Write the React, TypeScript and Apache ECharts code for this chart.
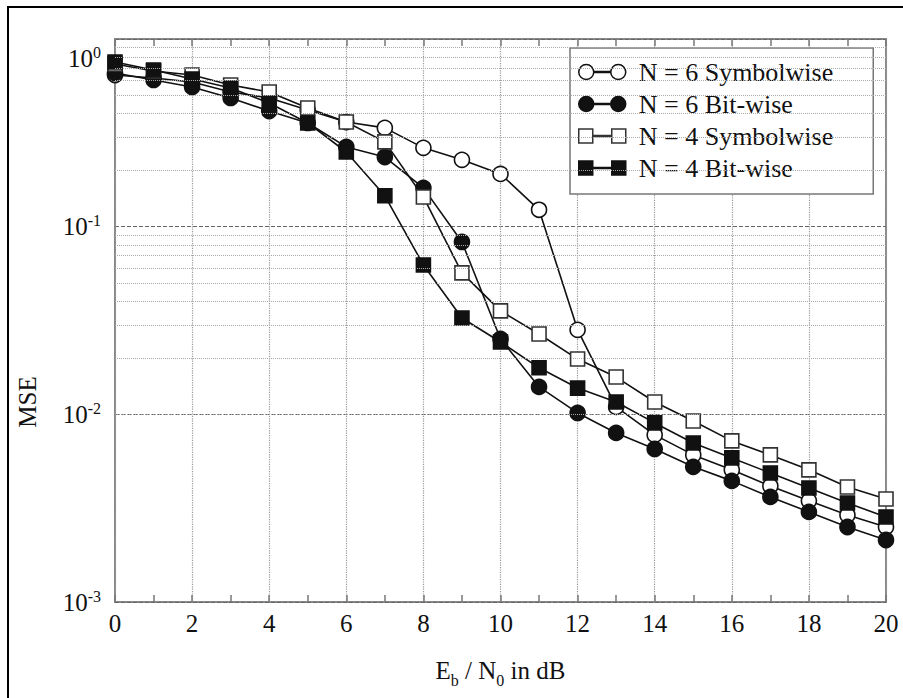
import React, { useEffect, useRef } from "react";
import * as echarts from "echarts";

const ebn0 = [0, 1, 2, 3, 4, 5, 6, 7, 8, 9, 10, 11, 12, 13, 14, 15, 16, 17, 18, 19, 20];

const n6Symbolwise = [0.643, 0.62, 0.59, 0.522, 0.485, 0.418, 0.361, 0.336, 0.263, 0.227, 0.191, 0.123, 0.0282, 0.01095, 0.00777, 0.00608, 0.00506, 0.00415, 0.00346, 0.00291, 0.00251];
const n6Bitwise = [0.659, 0.605, 0.555, 0.485, 0.413, 0.357, 0.266, 0.235, 0.161, 0.0829, 0.0252, 0.014, 0.01017, 0.00796, 0.00654, 0.00525, 0.00442, 0.00363, 0.00302, 0.00251, 0.00214];
const n4Symbolwise = [0.736, 0.675, 0.643, 0.569, 0.522, 0.429, 0.361, 0.283, 0.144, 0.0567, 0.0356, 0.0268, 0.0197, 0.0158, 0.01164, 0.00922, 0.00722, 0.00608, 0.00506, 0.0041, 0.00354];
const n4Bitwise = [0.754, 0.684, 0.612, 0.548, 0.456, 0.357, 0.25, 0.146, 0.0625, 0.0326, 0.0243, 0.0177, 0.0138, 0.01164, 0.009, 0.00704, 0.00586, 0.00487, 0.00405, 0.00337, 0.00284];

const seriesNames = ["N = 6 Symbolwise", "N = 6 Bit-wise", "N = 4 Symbolwise", "N = 4 Bit-wise"];

const minorGridValues = [
  0.002, 0.003, 0.004, 0.005, 0.006, 0.007, 0.008, 0.009,
  0.02, 0.03, 0.04, 0.05, 0.06, 0.07, 0.08, 0.09,
  0.2, 0.3, 0.4, 0.5, 0.6, 0.7, 0.8, 0.9,
];

const FONT = "'Liberation Serif', 'DejaVu Serif', serif";
const INK = "#111";

const circleIcon =
  "path://M0,7.5A7.5,7.5,0,1,1,15,7.5A7.5,7.5,0,1,1,0,7.5Z M15,6.9L32,6.9L32,8.1L15,8.1Z M32,7.5A7.5,7.5,0,1,1,47,7.5A7.5,7.5,0,1,1,32,7.5Z";
const squareIcon =
  "path://M0,0.5L14,0.5L14,14.5L0,14.5Z M14,6.9L33,6.9L33,8.1L14,8.1Z M33,0.5L47,0.5L47,14.5L33,14.5Z";

export default function App() {
  const ref = useRef<HTMLDivElement>(null);

  useEffect(() => {
    if (!ref.current) return;
    const chart = echarts.init(ref.current, null, { renderer: "svg" });

    const zip = (ys: number[]) => ebn0.map((x, i) => [x, ys[i]]);

    const mkSeries = (name: string, ys: number[], symbol: string, size: number, fill: string, border: string) => ({
      name,
      type: "line",
      data: zip(ys),
      symbol,
      symbolSize: size,
      showAllSymbol: true,
      lineStyle: { color: INK, width: 1.6 },
      itemStyle: { color: fill, borderColor: border, borderWidth: 1.6 },
      z: 3,
      animation: false,
    });

    const option: any = {
      animation: false,
      backgroundColor: "#fff",
      textStyle: { fontFamily: FONT },
      grid: {
        left: 115,
        top: 39,
        right: 17,
        bottom: 96,
        show: true,
        borderColor: "#888",
        borderWidth: 2,
        backgroundColor: "transparent",
        containLabel: false,
        outerBoundsMode: "none",
      },
      legend: {
        left: 570,
        top: 48,
        orient: "vertical",
        backgroundColor: "#fff",
        borderColor: "#777",
        borderWidth: 1.5,
        borderRadius: 0,
        padding: [11, 40, 13, 8],
        itemWidth: 47,
        itemHeight: 15,
        itemGap: 6,
        selectedMode: false,
        textStyle: { fontFamily: FONT, fontSize: 26, color: INK, lineHeight: 26, padding: [0, 0, 0, 8] },
        data: [
          { name: seriesNames[0], icon: circleIcon, itemStyle: { color: "#fff", borderColor: INK, borderWidth: 1.5 } },
          { name: seriesNames[1], icon: circleIcon, itemStyle: { color: INK, borderColor: INK, borderWidth: 1.5 } },
          { name: seriesNames[2], icon: squareIcon, itemStyle: { color: "#fff", borderColor: "#333", borderWidth: 1.5 } },
          { name: seriesNames[3], icon: squareIcon, itemStyle: { color: INK, borderColor: INK, borderWidth: 1.5 } },
        ],
      },
      xAxis: [
        {
          type: "value",
          min: 0,
          max: 20,
          interval: 2,
          position: "bottom",
          name: "{t|E}{sub|b}{t| / N}{sub|0}{t| in dB}",
          nameLocation: "middle",
          nameGap: 50,
          nameTextStyle: {
            fontFamily: FONT,
            color: INK,
            rich: {
              t: { fontFamily: FONT, fontSize: 25, lineHeight: 36, color: INK, verticalAlign: "middle" },
              sub: { fontFamily: FONT, fontSize: 16, lineHeight: 16, color: INK, verticalAlign: "bottom" },
            },
          },
          axisLine: { show: false },
          axisTick: { show: true, inside: true, length: 7, lineStyle: { color: "#777", width: 1.5 } },
          minorTick: { show: true, splitNumber: 2, length: 7, lineStyle: { color: "#777", width: 1.5 } },
          axisLabel: { fontFamily: FONT, fontSize: 25, color: INK, margin: 9 },
          splitLine: { show: true, lineStyle: { color: "#999", type: "dotted", width: 1.2 } },
        },
        {
          type: "value",
          min: 0,
          max: 20,
          interval: 2,
          position: "top",
          axisLine: { show: false },
          axisTick: { show: true, inside: true, length: 7, lineStyle: { color: "#777", width: 1.5 } },
          minorTick: { show: true, splitNumber: 2, length: 7, lineStyle: { color: "#777", width: 1.5 } },
          axisLabel: { show: false },
          splitLine: { show: false },
        },
      ],
      yAxis: {
        type: "log",
        logBase: 10,
        min: 0.001,
        max: 1,
        axisLine: { show: false },
        axisTick: { show: false },
        splitLine: { show: true, lineStyle: { color: "#666", type: "dashed", width: 1 } },
        axisLabel: {
          margin: 14,
          fontFamily: FONT,
          color: INK,
          formatter: (v: number) => {
            const e = Math.round(Math.log10(v));
            if (e === 0) return "{e| }\n{b|10}{s|0}";
            return "{b|10}{s|" + e + "}";
          },
          rich: {
            b: { fontFamily: FONT, fontSize: 25, lineHeight: 28, color: INK, verticalAlign: "middle" },
            s: { fontFamily: FONT, fontSize: 16, lineHeight: 16, color: INK, verticalAlign: "top" },
            e: { fontSize: 10, lineHeight: 38 },
          },
        },
      },
      graphic: [
        {
          type: "rect",
          silent: true,
          z: -10,
          shape: { x: 8, y: 7, width: 1000, height: 1000 },
          style: { fill: "none", stroke: "#000", lineWidth: 2 },
        },
        {
          type: "text",
          x: 27,
          y: 402,
          rotation: Math.PI / 2,
          silent: true,
          style: {
            text: "MSE",
            fontFamily: FONT,
            fontSize: 25,
            fill: INK,
            textAlign: "center",
            textVerticalAlign: "middle",
          },
        },
      ],
      series: [
        {
          type: "line",
          data: [],
          silent: true,
          z: 1,
          markLine: {
            silent: true,
            symbol: "none",
            animation: false,
            label: { show: false },
            lineStyle: { color: "#aaa", type: "dotted", width: 1 },
            data: minorGridValues.map((v) => ({ yAxis: v })),
          },
        },
        mkSeries(seriesNames[0], n6Symbolwise, "circle", 15, "#fff", INK),
        mkSeries(seriesNames[1], n6Bitwise, "circle", 15, INK, INK),
        mkSeries(seriesNames[2], n4Symbolwise, "rect", 14, "#fff", "#333"),
        mkSeries(seriesNames[3], n4Bitwise, "rect", 14, INK, INK),
      ],
    };

    chart.setOption(option);
    return () => chart.dispose();
  }, []);

  return (
    <div
      ref={ref}
      style={{ position: "fixed", left: 0, top: 0, width: 903, height: 698, background: "#fff" }}
    />
  );
}
